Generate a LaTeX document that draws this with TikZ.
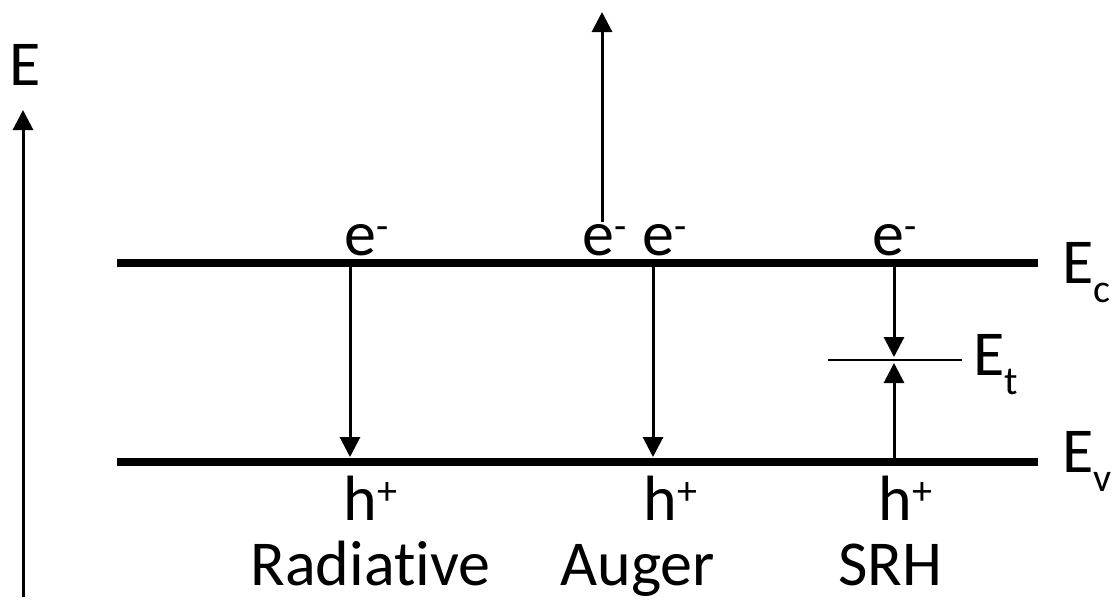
\documentclass[tikz,border=0pt]{standalone}
\usepackage{fontspec}
\setmainfont[Ligatures=NoCommon]{Carlito}
\usetikzlibrary{arrows.meta,positioning}
\newcommand\upidx[1]{\raisebox{0.25em}{\fontsize{20}{20}\selectfont #1}}
\newcommand\lowidx[1]{\raisebox{-0.3em}{\fontsize{20}{20}\selectfont #1}}
\begin{document}
\begin{tikzpicture}[x=0.5pt,y=-0.5pt,
  font=\fontsize{32}{38}\selectfont,
  band/.style={line width=4pt},
  ar/.style={line width=1.5pt,-{Triangle[length=10pt,width=10pt]}},
  lbl/.style={inner sep=0pt,anchor=base west}]
\useasboundingbox (0,0) rectangle (1119,600);
% energy axis
\coordinate (ax0) at (23,597); \coordinate (ax1) at (23,110);
\draw[ar] (ax0)--(ax1);
\node[lbl] (eax) at (9,85) {E};
% band edges
\coordinate (ecL) at (117,263); \coordinate (ecR) at (1038,263);
\coordinate (evL) at (117,462); \coordinate (evR) at (1038,462);
\draw[band] (ecL)--(ecR);
\draw[band] (evL)--(evR);
\node[lbl] (ec) at (1062,283) {E\lowidx{c}};
\node[lbl] (ev) at (1062,472) {E\lowidx{v}};
% trap level
\coordinate (etL) at (828,360); \coordinate (etR) at (962,360);
\draw[line width=1.2pt] (etL)--(etR);
\node[lbl] (et) at (973,375) {E\lowidx{t}};
% radiative
\coordinate (r0) at (350,263); \coordinate (r1) at (350,457);
\draw[ar] (r0)--(r1);
\node[lbl] (re) at (344,255) {e\upidx{-}};
\node[lbl] (rh) at (343,520) {h\upidx{+}};
\node[lbl] (rad) at (250,585) {Radiative};
% auger
\coordinate (a0) at (602,222); \coordinate (a1) at (602,12);
\coordinate (a2) at (653,263); \coordinate (a3) at (653,457);
\draw[ar] (a0)--(a1);
\draw[ar] (a2)--(a3);
\node[lbl] (ae1) at (582,255) {e\upidx{-}};
\node[lbl] (ae2) at (642,255) {e\upidx{-}};
\node[lbl] (ah) at (643,520) {h\upidx{+}};
\node[lbl] (aug) at (560,585) {Auger};
% srh
\coordinate (s0) at (894,263); \coordinate (s1) at (894,357);
\coordinate (s2) at (894,462); \coordinate (s3) at (894,363);
\draw[ar] (s0)--(s1);
\draw[ar] (s2)--(s3);
\node[lbl] (se) at (872,255) {e\upidx{-}};
\node[lbl] (sh) at (878,520) {h\upidx{+}};
\node[lbl] (srh) at (838,585) {SRH};
\end{tikzpicture}
\end{document}
